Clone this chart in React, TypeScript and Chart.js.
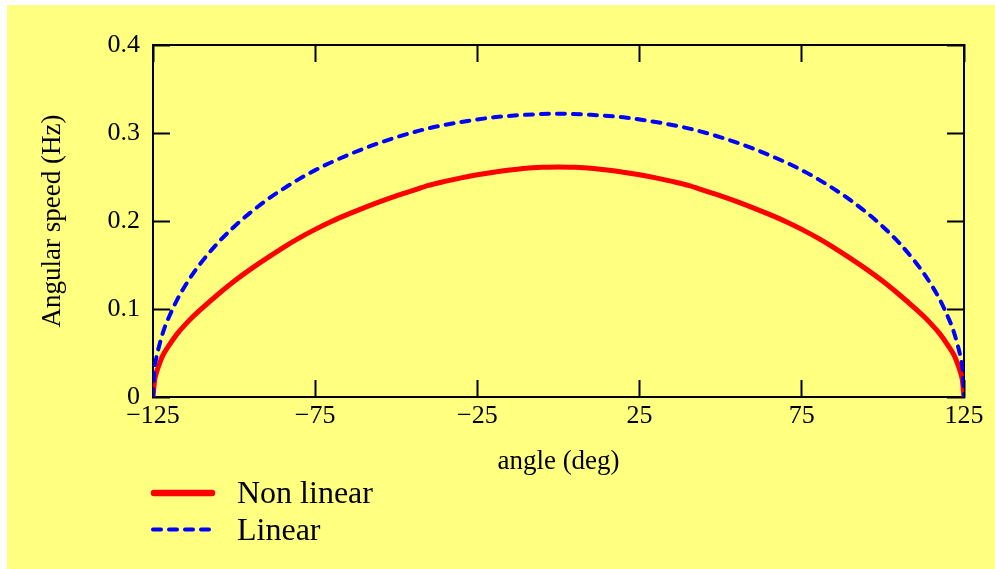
import React, { useEffect, useRef } from 'react';
import { Chart, registerables } from 'chart.js';

Chart.register(...registerables);

// ---- data ----
const seriesNames = ['Non linear', 'Linear'];

const nonLinearAngle = [-125, -124.5, -124, -123, -122, -120, -117.5, -115, -112.5, -110, -105, -100, -95, -90, -85, -80, -75, -70, -65, -60, -55, -50, -45, -40, -35, -30, -25, -20, -15, -10, -5, 0, 5, 10, 15, 20, 25, 30, 35, 40, 45, 50, 55, 60, 65, 70, 75, 80, 85, 90, 95, 100, 105, 110, 112.5, 115, 117.5, 120, 122, 123, 124, 124.5, 125];
const nonLinearSpeed = [0, 0.019, 0.027, 0.038, 0.047, 0.059, 0.072, 0.0825, 0.092, 0.1005, 0.1165, 0.1315, 0.145, 0.1575, 0.1695, 0.1805, 0.1905, 0.1995, 0.2075, 0.215, 0.222, 0.2285, 0.2345, 0.2405, 0.245, 0.249, 0.2525, 0.2555, 0.258, 0.26, 0.261, 0.2615, 0.261, 0.26, 0.258, 0.2555, 0.2525, 0.249, 0.245, 0.2405, 0.2345, 0.2285, 0.222, 0.215, 0.2075, 0.1995, 0.1905, 0.1805, 0.1695, 0.1575, 0.145, 0.1315, 0.1165, 0.1005, 0.092, 0.0825, 0.072, 0.059, 0.047, 0.038, 0.027, 0.019, 0];

const linearAngle = [-125, -124.6, -124, -123, -121.5, -120, -117.5, -115, -112.5, -110, -105, -100, -95, -90, -85, -80, -75, -70, -60, -50, -40, -30, -20, -10, 0, 10, 20, 30, 40, 50, 60, 70, 75, 80, 85, 90, 95, 100, 105, 110, 112.5, 115, 117.5, 120, 121.5, 123, 124, 124.6, 125];
const linearSpeed = [0, 0.03, 0.044, 0.0595, 0.078, 0.0915, 0.111, 0.127, 0.141, 0.1535, 0.1752, 0.1935, 0.2095, 0.2237, 0.2362, 0.2476, 0.2578, 0.2668, 0.2823, 0.2951, 0.3053, 0.3125, 0.3178, 0.3207, 0.322, 0.3207, 0.3178, 0.3125, 0.3053, 0.2951, 0.2823, 0.2668, 0.2578, 0.2476, 0.2362, 0.2237, 0.2095, 0.1935, 0.1752, 0.1535, 0.141, 0.127, 0.111, 0.0915, 0.078, 0.0595, 0.044, 0.03, 0];

const xTicks = [-125, -75, -25, 25, 75, 125];
const yTicks = [0, 0.1, 0.2, 0.3, 0.4];
const xTitle = 'angle (deg)';
const yTitle = 'Angular speed (Hz)';

const FONT = '"Liberation Serif", "Times New Roman", serif';

const toPoints = (xs: number[], ys: number[]) => xs.map((x, i) => ({ x, y: ys[i] }));

const fmtX = (v: number) => (v < 0 ? '\u2212' + Math.abs(v) : String(v));
const fmtY = (v: number) => (Math.abs(v) < 1e-9 ? '0' : v.toFixed(1));

const stackedLegend = {
  id: 'stackedLegend',
  afterDraw(chart: any) {
    const { ctx, chartArea } = chart;
    ctx.save();
    chart.data.datasets.forEach((ds: any, i: number) => {
      const y = chartArea.bottom + 96 + i * 36.6;
      const x0 = chartArea.left - 2;
      ctx.beginPath();
      ctx.strokeStyle = ds.borderColor;
      ctx.lineCap = 'round';
      if (ds.borderDash) {
        ctx.lineWidth = 4;
        ctx.setLineDash(ds.borderDash);
        ctx.moveTo(x0 + 2, y);
        ctx.lineTo(x0 + 58, y);
      } else {
        ctx.lineWidth = 6.5;
        ctx.setLineDash([]);
        ctx.moveTo(x0 + 3, y);
        ctx.lineTo(x0 + 61, y);
      }
      ctx.stroke();
      ctx.setLineDash([]);
      ctx.fillStyle = '#000';
      ctx.font = '32px ' + FONT;
      ctx.textBaseline = 'middle';
      ctx.textAlign = 'left';
      ctx.fillText(ds.label, x0 + 86, y + 2);
    });
    ctx.restore();
  },
};

function setTicks(values: number[]) {
  return (scale: any) => {
    scale.ticks = values.map((v) => ({ value: v }));
  };
}

function fixSize(prop: 'width' | 'height', size: number) {
  return (s: any) => {
    s[prop] = size;
    s.paddingTop = 0;
    s.paddingBottom = 0;
    s.paddingLeft = 0;
    s.paddingRight = 0;
  };
}

const axisCommon = {
  border: { display: true, color: '#000', width: 2 },
  grid: {
    display: true,
    drawOnChartArea: false,
    drawTicks: true,
    tickLength: -17,
    tickWidth: 2,
    tickColor: '#000',
    color: '#000',
  },
};

export default function App() {
  const canvasRef = useRef<HTMLCanvasElement | null>(null);

  useEffect(() => {
    if (!canvasRef.current) return;
    Chart.defaults.font.family = FONT;
    Chart.defaults.color = '#000';
    const chart = new Chart(canvasRef.current, {
      type: 'line',
      data: {
        datasets: [
          {
            label: seriesNames[0],
            data: toPoints(nonLinearAngle, nonLinearSpeed),
            borderColor: '#ff0000',
            borderWidth: 5,
            pointRadius: 0,
            cubicInterpolationMode: 'monotone',
            fill: false,
            order: 1,
          },
          {
            label: seriesNames[1],
            data: toPoints(linearAngle, linearSpeed),
            borderColor: '#0000ff',
            borderWidth: 4,
            borderDash: [8, 8],
            borderCapStyle: 'round',
            pointRadius: 0,
            cubicInterpolationMode: 'monotone',
            fill: false,
            order: 0,
          },
        ],
      },
      options: {
        animation: false,
        responsive: false,
        maintainAspectRatio: false,
        layout: { padding: 0, autoPadding: false },
        plugins: {
          legend: { display: false },
          tooltip: { enabled: false },
        },
        scales: {
          x: {
            type: 'linear',
            position: 'bottom',
            min: -125,
            max: 125,
            afterBuildTicks: setTicks(xTicks),
            afterFit: fixSize('height', 172),
            ...axisCommon,
            ticks: {
              font: { size: 26 },
              padding: 21,
              maxRotation: 0,
              autoSkip: false,
              callback: (v: any) => fmtX(Number(v)),
            },
            title: {
              display: true,
              text: xTitle,
              font: { size: 27 },
              padding: { top: 0, bottom: 91 },
            },
          },
          x2: {
            type: 'linear',
            position: 'top',
            min: -125,
            max: 125,
            afterBuildTicks: setTicks(xTicks),
            afterFit: fixSize('height', 40),
            ...axisCommon,
            ticks: { display: false },
          },
          y: {
            type: 'linear',
            position: 'left',
            min: 0,
            max: 0.4,
            afterBuildTicks: setTicks(yTicks),
            afterFit: fixSize('width', 146),
            ...axisCommon,
            ticks: {
              font: { size: 26 },
              padding: 30,
              autoSkip: false,
              callback: (v: any) => fmtY(Number(v)),
            },
            title: {
              display: true,
              text: yTitle,
              font: { size: 27 },
              padding: { top: 30, bottom: 0 },
            },
          },
          y2: {
            type: 'linear',
            position: 'right',
            min: 0,
            max: 0.4,
            afterBuildTicks: setTicks(yTicks),
            afterFit: fixSize('width', 31),
            ...axisCommon,
            ticks: { display: false },
          },
        },
      } as any,
      plugins: [stackedLegend],
    });
    return () => chart.destroy();
  }, []);

  return (
    <div style={{ position: 'absolute', left: 0, top: 0, width: 995, height: 569, background: '#ffffff' }}>
      <div style={{ position: 'absolute', left: 7, top: 5, width: 988, height: 564, background: '#ffff80' }}>
        <canvas ref={canvasRef} width={988} height={564} style={{ display: 'block' }} />
      </div>
    </div>
  );
}
